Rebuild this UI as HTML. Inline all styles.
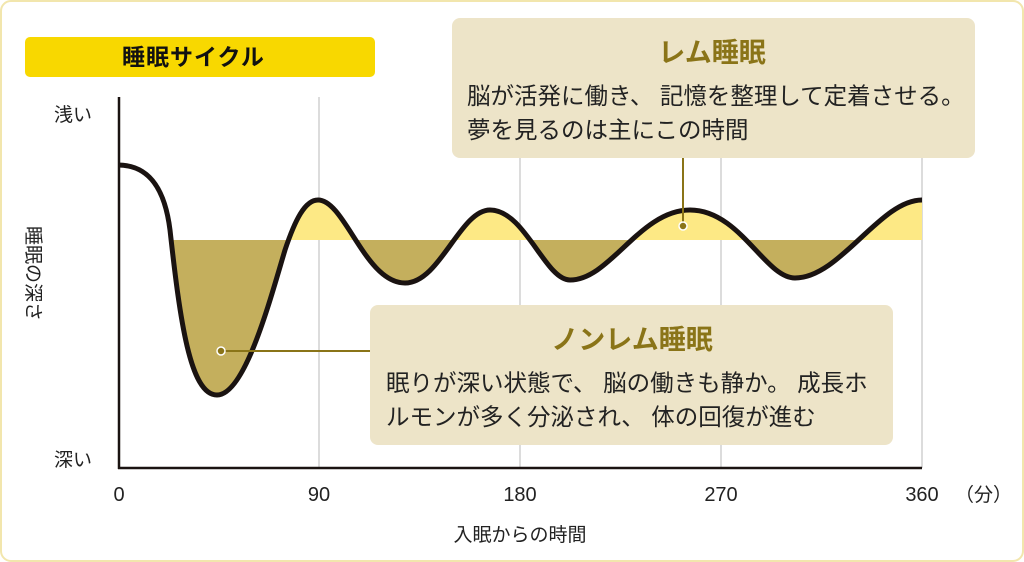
<!DOCTYPE html>
<html><head><meta charset="utf-8"><style>
body{margin:0;background:#fff}
svg{display:block}
text{font-family:"Liberation Sans","Noto Sans CJK JP",sans-serif}
</style></head><body>
<svg width="1024" height="562" viewBox="0 0 1024 562">
<rect x="1" y="1" width="1022" height="560" rx="10" fill="#fff" stroke="#f2e6ad" stroke-width="2"/>
<rect x="25" y="37" width="350" height="40" rx="5" fill="#f8d800"/>
<text x="122" y="65" font-size="23" font-weight="bold" fill="#111" letter-spacing="1">睡眠サイクル</text>
<g stroke="#dcdcdc" stroke-width="2">
<line x1="319" y1="97" x2="319" y2="468"/><line x1="520" y1="97" x2="520" y2="468"/>
<line x1="721" y1="97" x2="721" y2="468"/><line x1="922" y1="97" x2="922" y2="468"/>
</g>
<defs>
<clipPath id="top"><rect x="0" y="0" width="1024" height="240"/></clipPath>
<clipPath id="bot"><rect x="0" y="240" width="1024" height="400"/></clipPath>
<path id="fillp" d="M170,230 C180,320 190,395 217,395 C245,395 270,300 285,250 C295,220 305,200 318,200 C345,200 365,283 405,283 C440,283 460,210 490,210 C525,210 545,280 570,280 C610,280 640,210 690,210 C740,210 765,278 795,278 C840,278 880,200 922,200 L922,240 L170,240 Z"/>
</defs>
<use href="#fillp" fill="#fde985" clip-path="url(#top)"/>
<use href="#fillp" fill="#c4af5d" clip-path="url(#bot)"/>
<path d="M118,165 C150,165 165,190 170,230 C180,320 190,395 217,395 C245,395 270,300 285,250 C295,220 305,200 318,200 C345,200 365,283 405,283 C440,283 460,210 490,210 C525,210 545,280 570,280 C610,280 640,210 690,210 C740,210 765,278 795,278 C840,278 880,200 922,200" fill="none" stroke="#1a1311" stroke-width="5"/>
<line x1="119" y1="97" x2="119" y2="469" stroke="#1a1311" stroke-width="2.5"/>
<line x1="118" y1="468" x2="922" y2="468" stroke="#1a1311" stroke-width="2.5"/>
<rect x="452" y="18" width="523" height="140" rx="8" fill="#ede4c8"/>
<text x="712" y="62" font-size="27" font-weight="bold" fill="#8a7418" text-anchor="middle">レム睡眠</text>
<text x="467" y="104" font-size="23.5" fill="#222">脳が活発に働き、 記憶を整理して定着させる。</text>
<text x="467" y="138" font-size="23.5" fill="#222">夢を見るのは主にこの時間</text>
<line x1="683" y1="158" x2="683" y2="225" stroke="#8a7418" stroke-width="2"/>
<circle cx="683" cy="226" r="4" fill="#8a7418" stroke="#fff" stroke-width="1.5"/>
<rect x="370" y="305" width="523" height="140" rx="8" fill="#ede4c8"/>
<text x="632" y="349" font-size="27" font-weight="bold" fill="#8a7418" text-anchor="middle">ノンレム睡眠</text>
<text x="386" y="391" font-size="23.5" fill="#222">眠りが深い状態で、 脳の働きも静か。 成長ホ</text>
<text x="386" y="425" font-size="23.5" fill="#222">ルモンが多く分泌され、 体の回復が進む</text>
<line x1="221" y1="351" x2="370" y2="351" stroke="#8a7418" stroke-width="2"/>
<circle cx="221" cy="351" r="4" fill="#8a7418" stroke="#fff" stroke-width="1.5"/>
<text x="54" y="121" font-size="19" fill="#222">浅い</text>
<text x="54" y="466" font-size="19" fill="#222">深い</text>
<text font-size="19" fill="#222" transform="translate(27,226) rotate(90)">睡眠の深さ</text>
<g font-size="20" fill="#222" text-anchor="middle">
<text x="119" y="501">0</text><text x="319" y="501">90</text><text x="520" y="501">180</text>
<text x="721" y="501">270</text><text x="922" y="501">360</text>
</g>
<text x="955" y="501" font-size="19" fill="#222">（分）</text>
<text x="520" y="541" font-size="19" fill="#222" text-anchor="middle">入眠からの時間</text>
</svg>
</body></html>
